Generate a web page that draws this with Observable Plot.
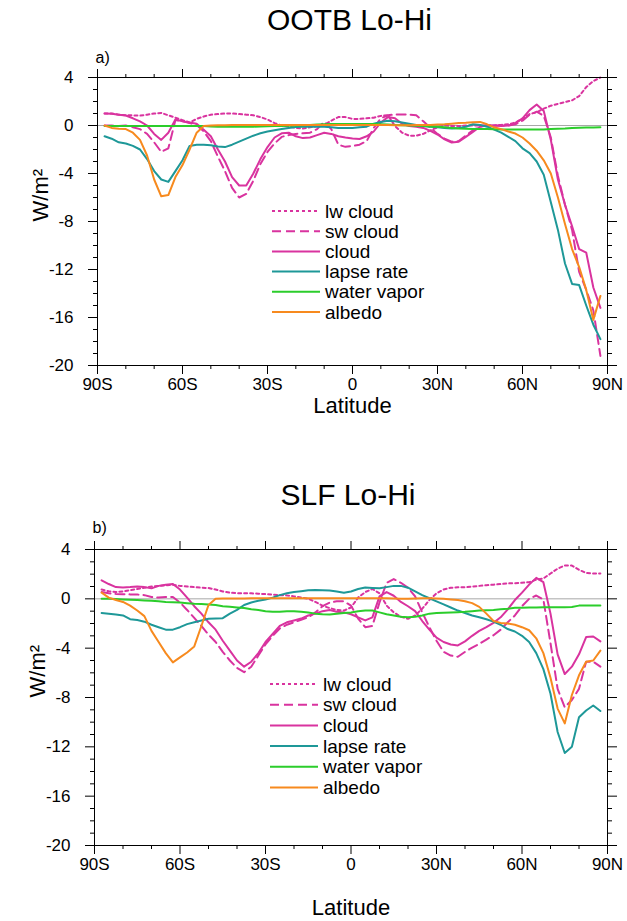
<!DOCTYPE html>
<html><head><meta charset="utf-8">
<script src="https://cdn.jsdelivr.net/npm/d3@7"></script>
<script src="https://cdn.jsdelivr.net/npm/@observablehq/plot@0.6"></script>
<style>
body{margin:0;background:#fff;font-family:"Liberation Sans",Arial,sans-serif;}
#wrap{position:relative;width:627px;height:921px;overflow:hidden;background:#fff;}
.panel{position:absolute;left:0;}
#legend{position:absolute;left:0;top:0;pointer-events:none;}
</style></head><body><div id="wrap"></div>
<script>
// ---------- data ----------
const lat = [-87.5,-85,-82.5,-80,-77.5,-75,-72.5,-70,-67.5,-65,-62.5,-60,-57.5,-55,-52.5,-50,-47.5,-45,-42.5,-40,-37.5,-35,-32.5,-30,-27.5,
 -25,-22.5,-20,-17.5,-15,-12.5,-10,-7.5,-5,-2.5,0,2.5,5,7.5,10,12.5,15,17.5,20,22.5,25,27.5,30,
 32.5,35,37.5,40,42.5,45,47.5,50,52.5,55,57.5,60,62.5,65,67.5,70,72.5,75,77.5,80,82.5,85,87.5];

const seriesNames = ["lw cloud","sw cloud","cloud","lapse rate","water vapor","albedo"];

// Panel a) OOTB Lo-Hi
const lwA = [1.0,1.0,0.9,0.85,0.85,0.82,0.9,1.0,1.05,0.85,0.65,0.45,0.25,0.55,0.75,0.9,0.95,1.0,1.0,0.95,0.9,0.85,0.7,0.5,0.2,
 0.0,-0.1,-0.2,-0.25,-0.15,-0.05,0.05,0.4,0.7,0.7,0.55,0.55,0.6,0.65,0.8,0.85,-0.05,-0.6,-0.85,-0.85,-0.7,-0.4,-0.15,
 0.0,-0.05,-0.05,0.0,0.0,0.0,0.0,0.0,0.05,0.1,0.25,0.55,0.95,1.1,1.4,1.65,1.8,1.95,2.1,2.45,3.2,3.7,4.0];
const swA = [0.0,0.0,-0.05,0.0,-0.15,-0.3,-0.7,-1.4,-2.2,-1.9,0.45,0.35,0.2,0.05,-0.5,-1.3,-2.6,-3.8,-5.2,-6.0,-5.7,-4.6,-3.2,-2.2,-1.5,
 -0.95,-0.8,-0.7,-0.65,-0.6,-0.3,0.3,-0.3,-1.6,-1.78,-1.7,-1.6,-1.3,-0.2,0.6,0.85,0.92,0.92,0.92,0.85,0.35,-0.2,-0.7,
 -1.1,-1.35,-1.3,-0.85,-0.4,-0.1,0.0,0.0,0.0,0.0,0.1,0.4,0.9,1.15,0.8,-1.0,-4.2,-6.6,-8.7,-12.2,-13.7,-15.4,-19.2];
const cloudA = [1.0,0.97,0.9,0.83,0.6,0.35,0.0,-0.7,-1.2,-0.6,0.5,0.35,0.25,0.15,-0.35,-0.9,-2.0,-3.0,-4.3,-5.0,-5.0,-4.0,-2.8,-1.8,-1.0,
 -0.65,-0.6,-0.9,-1.05,-1.0,-0.8,-0.6,-0.7,-0.9,-1.0,-1.08,-1.12,-0.9,-0.5,0.25,0.7,0.6,0.15,-0.05,-0.1,-0.2,-0.45,-0.75,
 -1.15,-1.42,-1.35,-0.95,-0.53,-0.1,0.05,0.0,-0.05,0.0,0.2,0.6,1.28,1.75,1.2,-1.2,-4.5,-6.6,-8.4,-10.3,-10.6,-13.5,-15.2];
const lapseA = [-0.9,-1.1,-1.4,-1.5,-1.7,-2.0,-2.8,-3.8,-4.5,-4.7,-3.8,-2.9,-1.7,-1.6,-1.6,-1.65,-1.75,-1.8,-1.6,-1.35,-1.1,-0.85,-0.65,-0.5,-0.4,
 -0.3,-0.2,-0.12,-0.1,-0.1,-0.08,-0.1,-0.15,-0.2,-0.2,-0.2,-0.15,-0.1,0.15,0.3,0.4,0.35,0.25,0.15,0.05,-0.05,-0.1,-0.15,
 -0.2,-0.25,-0.2,-0.1,0.1,0.05,-0.1,-0.35,-0.6,-0.95,-1.3,-1.9,-2.3,-3.0,-4.1,-6.4,-8.7,-11.5,-13.2,-13.3,-15.0,-16.6,-17.8];
const waterA = [-0.05,-0.05,-0.05,-0.05,-0.05,-0.05,-0.05,-0.05,-0.05,-0.05,-0.05,-0.05,-0.05,-0.05,-0.05,-0.08,-0.1,-0.1,-0.1,-0.1,-0.1,-0.1,-0.08,-0.06,-0.05,
 -0.05,-0.03,0.0,0.02,0.05,0.08,0.1,0.12,0.12,0.12,0.12,0.12,0.12,0.12,0.1,0.08,0.05,0.03,0.0,-0.02,-0.05,-0.08,-0.1,
 -0.15,-0.2,-0.25,-0.28,-0.3,-0.3,-0.3,-0.32,-0.33,-0.33,-0.33,-0.33,-0.33,-0.33,-0.33,-0.3,-0.28,-0.25,-0.2,-0.18,-0.17,-0.16,-0.15];
const albedoA = [0.0,-0.2,-0.28,-0.3,-0.6,-1.2,-2.5,-4.5,-5.9,-5.8,-4.3,-3.3,-2.0,-0.6,-0.05,0.0,0.02,0.03,0.05,0.05,0.05,0.05,0.05,0.05,0.05,
 0.05,0.05,0.05,0.05,0.05,0.05,0.05,0.05,0.05,0.05,0.05,0.05,0.05,0.05,0.05,0.05,0.02,0.02,0.02,0.05,0.05,0.05,0.08,
 0.1,0.15,0.2,0.22,0.28,0.3,0.1,-0.15,-0.3,-0.5,-0.67,-1.0,-1.5,-2.1,-2.9,-4.0,-6.0,-8.2,-10.3,-11.8,-13.7,-16.2,-14.2];

// Panel b) SLF Lo-Hi
const lwB = [0.75,0.62,0.55,0.6,0.7,0.8,0.9,1.0,1.05,1.1,1.15,1.05,1.0,0.95,0.9,0.88,0.75,0.6,0.5,0.46,0.45,0.45,0.42,0.38,0.35,
 0.3,0.28,0.2,0.1,0.0,-0.25,-0.55,-0.75,-0.9,-0.95,-0.7,0.1,0.55,0.8,0.45,-0.55,-1.1,-1.45,-1.62,-1.35,-0.8,-0.1,0.45,
 0.75,0.9,0.93,0.93,1.0,1.05,1.1,1.15,1.2,1.25,1.27,1.3,1.35,1.55,1.65,2.05,2.45,2.7,2.7,2.35,2.1,2.05,2.05];
const swB = [0.55,0.45,0.4,0.38,0.36,0.35,0.3,0.15,0.1,0.15,0.15,-0.3,-0.9,-1.55,-2.2,-2.9,-3.5,-4.3,-5.0,-5.6,-5.95,-5.5,-4.6,-3.7,-3.0,
 -2.4,-2.1,-1.9,-1.7,-1.5,-1.1,-0.6,-0.3,-0.2,-0.2,-0.55,-1.6,-2.3,-2.2,-0.3,1.3,1.6,1.3,0.9,0.2,-1.1,-2.3,-3.4,
 -4.3,-4.6,-4.7,-4.3,-3.95,-3.65,-3.3,-2.95,-2.5,-1.9,-1.35,-0.6,0.0,0.27,-0.05,-3.6,-7.3,-8.8,-8.2,-7.3,-5.1,-5.1,-5.5];
const cloudB = [1.5,1.2,0.95,0.92,0.95,1.0,0.95,0.85,1.05,1.15,1.2,0.75,0.1,-0.6,-1.2,-1.9,-2.5,-3.4,-4.2,-5.0,-5.5,-5.1,-4.4,-3.5,-2.85,
 -2.2,-1.9,-1.75,-1.6,-1.35,-1.2,-1.0,-0.9,-1.05,-1.1,-1.25,-1.5,-1.75,-1.5,0.2,0.55,0.25,-0.25,-0.6,-1.0,-1.8,-2.5,-3.15,
 -3.5,-3.7,-3.78,-3.45,-3.0,-2.6,-2.3,-1.95,-1.5,-0.85,-0.1,0.5,1.15,1.7,1.35,-1.2,-4.5,-6.1,-5.5,-4.5,-3.1,-3.05,-3.45];
const lapseB = [-1.15,-1.2,-1.27,-1.35,-1.65,-1.72,-1.85,-2.1,-2.3,-2.5,-2.5,-2.3,-2.05,-1.9,-1.75,-1.62,-1.6,-1.57,-1.2,-0.9,-0.5,-0.3,-0.15,-0.05,0.1,
 0.3,0.45,0.55,0.62,0.7,0.72,0.7,0.68,0.6,0.5,0.6,0.8,0.92,0.88,0.85,0.95,1.05,1.05,0.9,0.6,0.3,0.05,-0.2,
 -0.45,-0.7,-0.95,-1.15,-1.35,-1.5,-1.65,-1.85,-2.1,-2.45,-2.65,-3.0,-3.5,-4.4,-5.7,-7.7,-10.8,-12.5,-12.0,-9.6,-9.05,-8.65,-9.1];
const waterB = [0.0,0.0,-0.02,-0.05,-0.08,-0.1,-0.13,-0.15,-0.2,-0.25,-0.28,-0.3,-0.35,-0.4,-0.42,-0.45,-0.5,-0.6,-0.65,-0.7,-0.75,-0.85,-0.9,-1.0,-1.05,
 -1.05,-1.0,-1.0,-1.05,-1.1,-1.2,-1.25,-1.27,-1.2,-1.15,-1.1,-1.0,-0.95,-0.95,-1.1,-1.25,-1.35,-1.45,-1.5,-1.45,-1.35,-1.2,-1.15,
 -1.12,-1.1,-1.08,-1.05,-1.0,-0.95,-0.92,-0.9,-0.85,-0.8,-0.73,-0.72,-0.7,-0.7,-0.68,-0.68,-0.68,-0.68,-0.66,-0.55,-0.54,-0.54,-0.54];
const albedoB = [0.5,0.1,-0.1,-0.25,-0.55,-0.95,-1.4,-2.6,-3.5,-4.4,-5.15,-4.75,-4.35,-3.86,-2.2,-0.5,0.0,0.02,0.03,0.03,0.03,0.04,0.05,0.05,0.05,
 0.05,0.05,0.05,0.05,0.05,0.05,0.05,0.05,0.05,0.05,0.05,0.05,0.05,0.05,0.05,0.05,0.02,0.0,0.0,0.02,0.05,0.05,0.02,
 0.0,-0.05,-0.1,-0.2,-0.35,-0.65,-1.2,-1.8,-1.95,-2.0,-2.1,-2.3,-2.55,-3.2,-4.4,-6.4,-8.9,-10.1,-7.8,-6.2,-5.1,-5.0,-4.2];

// ticks
const xTicks = [-90,-60,-30,0,30,60,90];
const xTickLabels = ["90S","60S","30S","0","30N","60N","90N"];
const xMinor = [-80,-70,-50,-40,-20,-10,10,20,40,50,70,80];
const yTicks = [4,0,-4,-8,-12,-16,-20];
const yMinor = [3,2,1,-1,-2,-3,-5,-6,-7,-9,-10,-11,-13,-14,-15,-17,-18,-19];

// ---------- styles ----------
const MAG = "#d9339f", TEAL = "#1e9898", GREEN = "#2bcd2b", ORANGE = "#f78a1e";
const seriesStyle = {
  "lw cloud":   {color: MAG, dash: "3,3"},
  "sw cloud":   {color: MAG, dash: "9,5"},
  "cloud":      {color: MAG, dash: null},
  "lapse rate": {color: TEAL, dash: null},
  "water vapor":{color: GREEN, dash: null},
  "albedo":     {color: ORANGE, dash: null}
};

const panelA = [lwA, swA, cloudA, lapseA, waterA, albedoA];
const panelB = [lwB, swB, cloudB, lapseB, waterB, albedoB];
[...panelA, ...panelB].forEach((a, i) => { if (a.length !== lat.length) throw new Error("length mismatch in series " + i + ": " + a.length); });

function makePanel(cfg) {
  const lines = seriesNames.map((name, k) => {
    const st = seriesStyle[name];
    const data = lat.map((x, i) => ({lat: x, v: cfg.values[k][i]}));
    return Plot.line(data, {x: "lat", y: "v", stroke: st.color, strokeWidth: 2, strokeDasharray: st.dash || undefined});
  });
  const fs = 17;
  return Plot.plot({
    width: 627, height: cfg.height,
    marginTop: cfg.mt, marginBottom: cfg.mb, marginLeft: cfg.ml, marginRight: cfg.mr,
    x: {domain: [-90, 90]},
    y: {domain: [-20, 4]},
    style: {fontFamily: "'Liberation Sans', Arial, sans-serif", background: "white", color: "black", overflow: "visible"},
    marks: [
      Plot.ruleY([0], {stroke: "#a8a8a8", strokeWidth: 1}),
      ...lines,
      Plot.frame({stroke: "#000", strokeWidth: 1}),
      Plot.axisX(xTicks, {anchor: "bottom", tickSize: 9, tickPadding: 3, tickFormat: d => xTickLabels[xTicks.indexOf(d)], fontSize: fs, label: null}),
      Plot.axisX(xMinor, {anchor: "bottom", tickSize: 4, tickFormat: () => "", label: null}),
      Plot.axisX(xTicks, {anchor: "top", tickSize: 9, tickFormat: () => "", label: null}),
      Plot.axisX(xMinor, {anchor: "top", tickSize: 4, tickFormat: () => "", label: null}),
      Plot.axisY(yTicks, {anchor: "left", tickSize: 9, tickPadding: 15, tickFormat: d => String(d), fontSize: fs, label: null}),
      Plot.axisY(yMinor, {anchor: "left", tickSize: 4, tickFormat: () => "", label: null}),
      Plot.axisY(yTicks, {anchor: "right", tickSize: 9, tickFormat: () => "", label: null}),
      Plot.axisY(yMinor, {anchor: "right", tickSize: 4, tickFormat: () => "", label: null}),
      Plot.text([cfg.title], {text: d => d, frameAnchor: "top", dy: cfg.titleDy, dx: -3, fontSize: 30, lineAnchor: "middle"}),
      Plot.text([cfg.tag], {text: d => d, frameAnchor: "top-left", dy: cfg.tagDy, dx: -2, fontSize: 16, textAnchor: "start", lineAnchor: "middle"}),
      Plot.text(["W/m²"], {text: d => d, frameAnchor: "left", dx: -57, rotate: -90, fontSize: 22, lineAnchor: "middle"}),
      Plot.text(["Latitude"], {text: d => d, frameAnchor: "bottom", dy: cfg.xLabelDy, fontSize: 22, lineAnchor: "middle"})
    ]
  });
}

const wrap = document.getElementById("wrap");
const svgA = makePanel({values: panelA, height: 460, mt: 77, mb: 95, ml: 97, mr: 20,
  title: "OOTB Lo-Hi", titleDy: -57, tag: "a)", tagDy: -20, xLabelDy: 40});
svgA.classList.add("panel"); svgA.style.top = "0px";
wrap.appendChild(svgA);

const svgB = makePanel({values: panelB, height: 461, mt: 89, mb: 76, ml: 94, mr: 20,
  title: "SLF Lo-Hi", titleDy: -54, tag: "b)", tagDy: -22, xLabelDy: 62});
svgB.classList.add("panel"); svgB.style.top = "460px";
wrap.appendChild(svgB);

// ---------- legends (overlay) ----------
const leg = d3.select(wrap).append("svg").attr("id", "legend").attr("width", 627).attr("height", 921);
function legend(x0, x1, tx, y0, step) {
  const g = leg.append("g").style("font-family", "'Liberation Sans', Arial, sans-serif").style("font-size", "19px");
  seriesNames.forEach((name, i) => {
    const st = seriesStyle[name], y = y0 + i * step;
    g.append("line").attr("x1", x0).attr("x2", x1).attr("y1", y).attr("y2", y)
      .attr("stroke", st.color).attr("stroke-width", 2).attr("stroke-dasharray", st.dash);
    g.append("text").attr("x", tx).attr("y", y).attr("dy", "0.35em").attr("fill", "#000").text(name);
  });
}
legend(272, 320, 325, 211, 20.2);
legend(270, 318, 323, 684, 20.7);
</script></body></html>
